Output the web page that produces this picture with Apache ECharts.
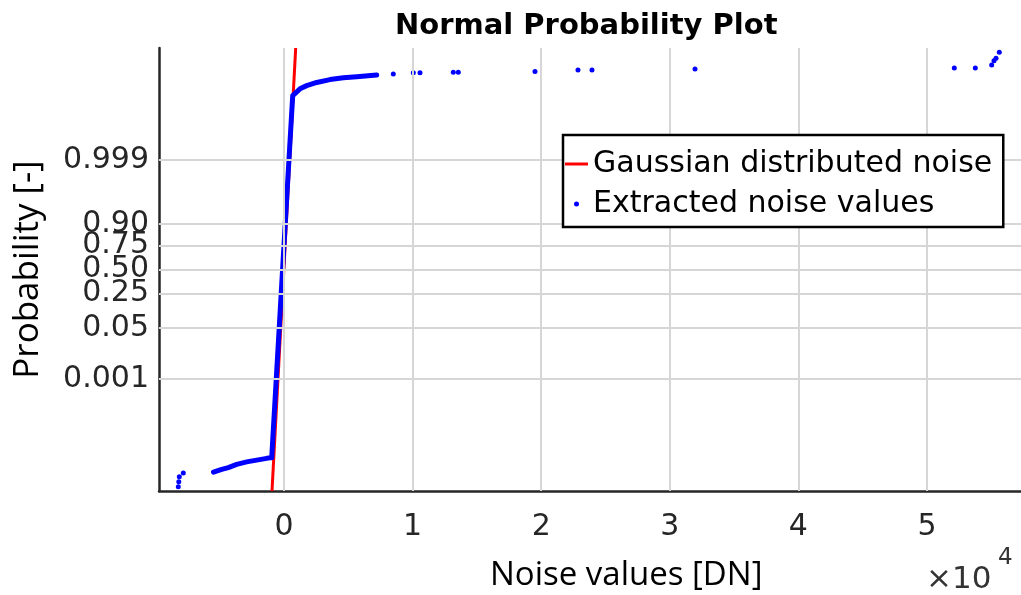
<!DOCTYPE html>
<html>
<head>
<meta charset="utf-8">
<script src="https://cdn.jsdelivr.net/npm/echarts@6/dist/echarts.min.js"></script>
<style>
  html, body { margin: 0; padding: 0; background: #fff; }
  #chart { width: 1021px; height: 595px; }
</style>
</head>
<body>
<div id="chart"></div>
<script>
// Probability tick labels on the normal-quantile axis
const probTicks = ['0.001', '0.05', '0.25', '0.50', '0.75', '0.90', '0.999'];
// x ticks in DN, labelled in units of 10^4
const xTicks = [0, 10000, 20000, 30000, 40000, 50000];

// Fitted Gaussian reference line (DN)
const gaussMean = -12;
const gaussSigma = 147.7;

// Extracted noise values as [value in DN, normal quantile]
const lowerTailSpots = [[-8219, -6.12], [-8180, -5.98], [-8141, -5.84], [-7830, -5.73]];
const lowerTailRun = [[-5480, -5.71], [-4844, -5.63], [-4331, -5.58], [-3678, -5.49],
  [-2900, -5.42], [-2122, -5.37], [-1345, -5.32], [-956, -5.30]];
const bodyRun = [[-956, -5.30], [-599, -3.07], [-241, -0.82], [163, 1.71], [435, 3.40],
  [677, 4.90], [1244, 5.09], [1765, 5.18], [2543, 5.27], [3577, 5.35], [4611, 5.40],
  [5653, 5.43], [7208, 5.48]];
const upperTailSpots = [[8499, 5.51], [10055, 5.54], [10575, 5.54], [13165, 5.56],
  [13554, 5.56], [19518, 5.58], [22861, 5.62], [23950, 5.62], [31960, 5.65],
  [52122, 5.68], [53755, 5.68], [55030, 5.76], [55210, 5.88], [55366, 5.95], [55622, 6.12]];

// Axis limits
const xMin = -9720, xMax = 57310;
const zMin = -6.24, zMax = 6.24;

// Inverse standard normal CDF (Acklam's rational approximation)
function normInv(p) {
  const a = [-3.969683028665376e+01, 2.209460984245205e+02, -2.759285104469687e+02,
    1.383577518672690e+02, -3.066479806614716e+01, 2.506628277459239e+00];
  const b = [-5.447609879822406e+01, 1.615858368580409e+02, -1.556989798598866e+02,
    6.680131188771972e+01, -1.328068155288572e+01];
  const c = [-7.784894002430293e-03, -3.223964580411365e-01, -2.400758277161838e+00,
    -2.549732539343734e+00, 4.374664141464968e+00, 2.938163982698783e+00];
  const d = [7.784695709041462e-03, 3.224671290700398e-01, 2.445134137142996e+00,
    3.754408661907416e+00];
  const pl = 0.02425, ph = 1 - pl;
  let q, r;
  if (p < pl) {
    q = Math.sqrt(-2 * Math.log(p));
    return (((((c[0]*q + c[1])*q + c[2])*q + c[3])*q + c[4])*q + c[5]) /
      ((((d[0]*q + d[1])*q + d[2])*q + d[3])*q + 1);
  }
  if (p > ph) {
    q = Math.sqrt(-2 * Math.log(1 - p));
    return -(((((c[0]*q + c[1])*q + c[2])*q + c[3])*q + c[4])*q + c[5]) /
      ((((d[0]*q + d[1])*q + d[2])*q + d[3])*q + 1);
  }
  q = p - 0.5; r = q * q;
  return (((((a[0]*r + a[1])*r + a[2])*r + a[3])*r + a[4])*r + a[5])*q /
    (((((b[0]*r + b[1])*r + b[2])*r + b[3])*r + b[4])*r + 1);
}

const zTicks = probTicks.map(p => normInv(parseFloat(p)));
function probLabel(z) {
  let best = 0;
  zTicks.forEach((t, i) => { if (Math.abs(t - z) < Math.abs(zTicks[best] - z)) best = i; });
  return probTicks[best];
}

const gaussLine = [
  [gaussMean + gaussSigma * zMin, zMin],
  [gaussMean + gaussSigma * zMax, zMax]
];

const axisColor = '#262626';
const gridStyle = { color: '#d6d6d6', width: 2, type: 'solid' };
const tickFont = 'DejaVu Sans';
const blue = '#0000ff';

const chart = echarts.init(document.getElementById('chart'), null, { renderer: 'canvas' });
chart.setOption({
  animation: false,
  backgroundColor: '#fff',
  title: {
    text: 'Normal Probability Plot',
    left: 390,
    top: 7,
    textStyle: { fontFamily: tickFont, fontWeight: 'bold', fontSize: 29, color: '#000' }
  },
  grid: { left: 159, top: 48, right: 0, bottom: 104, outerBoundsMode: 'none' },
  legend: {
    orient: 'vertical',
    left: 563,
    top: 135,
    z: 50,
    padding: [11, 11, 5, 2],
    itemGap: 4,
    itemWidth: 23,
    itemHeight: 5,
    borderColor: '#000',
    borderWidth: 2.5,
    backgroundColor: '#fff',
    textStyle: { fontFamily: tickFont, fontSize: 30, color: '#000', lineHeight: 36 },
    data: [
      { name: 'Gaussian distributed noise', icon: 'path://M0,0 L23,0 L23,3 L0,3 Z' },
      { name: 'Extracted noise values', icon: 'circle' }
    ]
  },
  xAxis: {
    type: 'value',
    min: xMin,
    max: xMax,
    axisLine: { onZero: false, lineStyle: { color: axisColor, width: 2.5 } },
    axisTick: { inside: true, length: 7, customValues: xTicks, lineStyle: { color: axisColor, width: 2 } },
    axisLabel: {
      customValues: xTicks,
      formatter: v => String(Math.round(v / 1e4)),
      fontFamily: tickFont, fontSize: 30, color: axisColor, margin: 21
    },
    splitLine: { show: false }
  },
  yAxis: {
    type: 'value',
    min: zMin,
    max: zMax,
    name: 'Probability [-]',
    nameLocation: 'middle',
    nameGap: 113,
    nameTextStyle: { fontFamily: 'Open Sans', fontSize: 35, color: '#000' },
    axisLine: { onZero: false, lineStyle: { color: axisColor, width: 2.5 } },
    axisTick: { inside: true, length: 7, customValues: zTicks, lineStyle: { color: axisColor, width: 2 } },
    axisLabel: {
      customValues: zTicks,
      formatter: v => probLabel(v),
      fontFamily: tickFont, fontSize: 30, color: axisColor, margin: 10
    },
    splitLine: { show: false }
  },
  graphic: [
    {
      type: 'text', left: 490, top: 559,
      style: { text: 'Noise values [DN]', fontFamily: 'Open Sans', fontSize: 33, fill: '#000' }
    },
    {
      type: 'text', left: 926, top: 564,
      style: { text: '\u00d710', fontFamily: tickFont, fontSize: 31, fill: '#333' }
    },
    {
      type: 'text', left: 998, top: 547,
      style: { text: '4', fontFamily: tickFont, fontSize: 23, fill: '#333' }
    }
  ],
  series: [
    {
      // grid lines at the labelled ticks
      name: 'grid',
      type: 'line',
      data: [],
      z: 1,
      silent: true,
      markLine: {
        silent: true,
        symbol: ['none', 'none'],
        label: { show: false },
        lineStyle: gridStyle,
        data: xTicks.map(v => ({ xAxis: v })).concat(zTicks.map(v => ({ yAxis: v })))
      }
    },
    {
      name: 'Extracted noise values',
      type: 'scatter',
      data: lowerTailSpots.concat(upperTailSpots),
      symbol: 'circle',
      symbolSize: 5,
      itemStyle: { color: blue, opacity: 1 },
      z: 4
    },
    {
      name: 'Gaussian distributed noise',
      type: 'line',
      data: gaussLine,
      symbol: 'none',
      lineStyle: { color: '#ff0000', width: 3 },
      itemStyle: { color: '#ff0000' },
      z: 3
    },
    {
      name: 'Extracted noise values',
      type: 'line',
      data: lowerTailRun,
      symbol: 'none',
      lineStyle: { color: blue, width: 5, cap: 'round', join: 'round' },
      z: 4
    },
    {
      name: 'Extracted noise values',
      type: 'line',
      data: bodyRun,
      symbol: 'none',
      lineStyle: { color: blue, width: 5, cap: 'round', join: 'round' },
      z: 4
    }
  ]
});
</script>
</body>
</html>
